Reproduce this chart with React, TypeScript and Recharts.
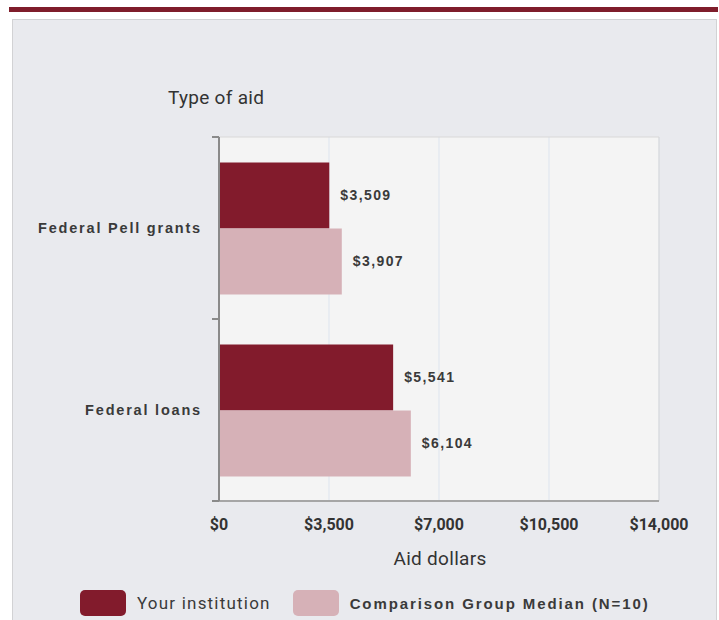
import { BarChart, Bar, XAxis, YAxis, CartesianGrid, LabelList, ReferenceArea } from 'recharts';

const categories = ['Federal Pell grants', 'Federal loans'];
const yourInstitution = [3509, 5541];
const comparisonMedian = [3907, 6104];
const xTicks = [0, 3500, 7000, 10500, 14000];
const seriesNames = ['Your institution', 'Comparison Group Median (N=10)'];

const MAROON = '#821b2c';
const PINK = '#d6b1b7';
const narrow = 'Roboto, "Liberation Sans Narrow", sans-serif';
const wide = '"Liberation Sans", Arial, sans-serif';

const data = categories.map((c, i) => ({ category: c, yours: yourInstitution[i], median: comparisonMedian[i] }));

const money = (v: number) => '$' + v.toLocaleString('en-US');

function CategoryTick(props: any) {
    const { x, y, payload } = props;
    const half = payload?.offset ?? 91;
    return (
        <g>
            <text x={x} y={y} dy={5} textAnchor="end" fill="#3a3a3a" fontSize={14.5} fontWeight="bold" fontFamily={wide} letterSpacing={1.8}>
                {payload.value}
            </text>
            <line x1={x + 10} x2={x + 17} y1={y - half} y2={y - half} stroke="#8a8a8a" strokeWidth={2} />
            <line x1={x + 10} x2={x + 17} y1={y + half} y2={y + half} stroke="#8a8a8a" strokeWidth={2} />
        </g>
    );
}

function ChartLegend() {
    const colors = [MAROON, PINK];
    return (
        <div style={{ position: 'absolute', left: 80, top: 590, display: 'flex', alignItems: 'center' }}>
            {seriesNames.map((n, i) => (
                <div key={n} style={{ display: 'flex', alignItems: 'center', marginRight: 22 }}>
                    <span style={{ width: 46, height: 26, borderRadius: 5, background: colors[i], display: 'inline-block' }} />
                    <span
                        style={{
                            marginLeft: 11,
                            fontSize: i === 0 ? 17 : 15,
                            fontFamily: i === 0 ? narrow : wide,
                            fontWeight: i === 0 ? 'normal' : 'bold',
                            letterSpacing: i === 0 ? 1.2 : 1.9,
                            color: '#3a3a3a',
                        }}
                    >
                        {n}
                    </span>
                </div>
            ))}
        </div>
    );
}

const valueLabel = {
    position: 'right' as const,
    offset: 11,
    formatter: (v: any) => money(Number(v)),
    fill: '#3a3a3a',
    fontSize: 14,
    fontWeight: 'bold',
    fontFamily: wide,
    letterSpacing: 1.4,
};

export default function App() {
    return (
        <div style={{ position: 'absolute', left: 0, top: 0, width: 719, height: 620, background: '#fff', overflow: 'hidden' }}>
            <div style={{ position: 'absolute', left: 9, top: 7, width: 709, height: 5, background: '#7f1d2b' }} />
            <div style={{ position: 'absolute', left: 12, top: 19, width: 703, height: 610, background: '#e9eaee', border: '1px solid #d2d2d4' }} />
            <div style={{ position: 'absolute', left: 168, top: 86, fontFamily: narrow, fontSize: 19, color: '#333', letterSpacing: 0.3 }}>Type of aid</div>
            <div style={{ position: 'absolute', left: 0, width: 880, top: 547, textAlign: 'center', fontFamily: narrow, fontSize: 19, color: '#333', letterSpacing: 0.3 }}>
                Aid dollars
            </div>
            <div style={{ position: 'absolute', left: 0, top: 0 }}>
                <BarChart
                    width={719}
                    height={620}
                    data={data}
                    layout="vertical"
                    margin={{ top: 137, right: 60, left: 139, bottom: 79 }}
                    barCategoryGap="14%"
                    barGap={0}
                >
                    <CartesianGrid horizontal={false} stroke="#dde4ee" fill="#f4f4f4" />
                    <ReferenceArea x1={0} x2={14000} fill="none" stroke="#d8d8d8" ifOverflow="extendDomain" />
                    <XAxis
                        type="number"
                        domain={[0, 14000]}
                        ticks={xTicks}
                        tickFormatter={money}
                        tickLine={false}
                        tickSize={0}
                        tickMargin={18}
                        axisLine={{ stroke: '#a6a6a6', strokeWidth: 2 }}
                        tick={{ fill: '#333', fontSize: 16, fontFamily: narrow, fontWeight: 'bold' }}
                        height={40}
                    />
                    <YAxis
                        type="category"
                        dataKey="category"
                        width={80}
                        tickLine={false}
                        tickSize={7}
                        tickMargin={10}
                        axisLine={{ stroke: '#8a8a8a', strokeWidth: 2 }}
                        tick={<CategoryTick />}
                    />
                    <Bar dataKey="yours" name={seriesNames[0]} fill={MAROON} isAnimationActive={false}>
                        <LabelList dataKey="yours" {...valueLabel} />
                    </Bar>
                    <Bar dataKey="median" name={seriesNames[1]} fill={PINK} isAnimationActive={false}>
                        <LabelList dataKey="median" {...valueLabel} />
                    </Bar>
                </BarChart>
            </div>
            <ChartLegend />
        </div>
    );
}
